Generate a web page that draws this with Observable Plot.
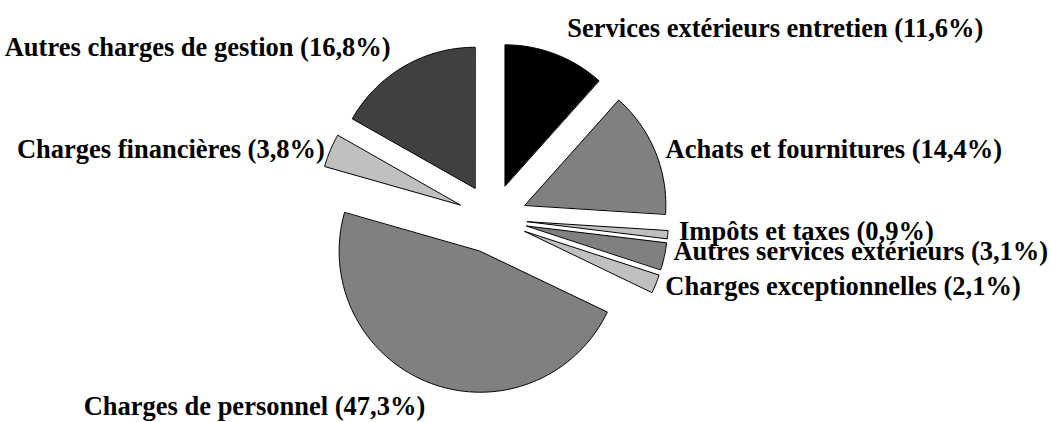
<!DOCTYPE html>
<html>
<head>
<meta charset="utf-8">
<script src="https://cdn.jsdelivr.net/npm/d3@7"></script>
<script src="https://cdn.jsdelivr.net/npm/@observablehq/plot@0.6"></script>
<style>
  html, body { margin: 0; padding: 0; background: #fff; }
  #chart svg { display: block; }
</style>
</head>
<body>
<div id="chart"></div>
<script>
// ---- data ----
const categories = [
  "Services extérieurs entretien",
  "Achats et fournitures",
  "Impôts et taxes",
  "Autres services extérieurs",
  "Charges exceptionnelles",
  "Charges de personnel",
  "Charges financières",
  "Autres charges de gestion"
];
const values = [11.6, 14.4, 0.9, 3.1, 2.1, 47.3, 3.8, 16.8];
const labels = categories.map((c, i) => `${c} (${String(values[i]).replace(".", ",")}%)`);

// ---- layout / style ----
const colors = ["#000000", "#808080", "#c0c0c0", "#808080", "#c0c0c0", "#808080", "#c0c0c0", "#404040"];
const W = 1051, H = 422;
const R = 141;                 // pixels per unit (pie radius)
const cx = 492, cy = 218;      // pie centre in pixels
const explode = 0.248;         // explosion distance (units)
const labelR = 1.35;           // label radius (units)
const fontSize = 26.5;
const anchors = ["start", "start", "start", "start", "start", "end", "end", "end"];
const nudges = [[7, -12.5], [-3, 3.5], [-3, -4.5], [-5, -7.5], [-4, -3], [0, 9.5], [8, 4.5], [-6, -7]]; // px

const total = d3.sum(values);
let cum = 0;
const slices = values.map((v, i) => {
  const a0 = cum / total * 2 * Math.PI;
  cum += v;
  const a1 = cum / total * 2 * Math.PI;
  return {i, a0, a1, mid: (a0 + a1) / 2};
});

const polyPts = [];
for (const s of slices) {
  const ox = explode * Math.sin(s.mid), oy = explode * Math.cos(s.mid);
  polyPts.push({k: s.i, x: ox, y: oy});
  const n = Math.max(2, Math.ceil((s.a1 - s.a0) / (Math.PI / 180)));
  for (let j = 0; j <= n; j++) {
    const a = s.a0 + (s.a1 - s.a0) * j / n;
    polyPts.push({k: s.i, x: ox + Math.sin(a), y: oy + Math.cos(a)});
  }
}

const labelPts = slices.map(s => ({
  text: labels[s.i],
  anchor: anchors[s.i],
  x: labelR * Math.sin(s.mid) + nudges[s.i][0] / R,
  y: labelR * Math.cos(s.mid) - nudges[s.i][1] / R
}));

const chart = Plot.plot({
  width: W,
  height: H,
  margin: 0,
  x: {domain: [-cx / R, (W - cx) / R], axis: null},
  y: {domain: [-(H - cy) / R, cy / R], axis: null},
  style: {fontFamily: "'Liberation Serif', 'Times New Roman', serif", background: "#fff"},
  marks: [
    Plot.line(polyPts, {
      x: "x", y: "y", z: "k",
      fill: d => colors[d.k],
      stroke: "#000",
      strokeWidth: 1,
      curve: "linear-closed"
    }),
    Plot.text(labelPts.filter(d => d.anchor === "start"), {
      x: "x", y: "y", text: "text", textAnchor: "start",
      fontSize, fontWeight: "bold", fill: "#000"
    }),
    Plot.text(labelPts.filter(d => d.anchor === "end"), {
      x: "x", y: "y", text: "text", textAnchor: "end",
      fontSize, fontWeight: "bold", fill: "#000"
    })
  ]
});
document.getElementById("chart").appendChild(chart);
</script>
</body>
</html>
